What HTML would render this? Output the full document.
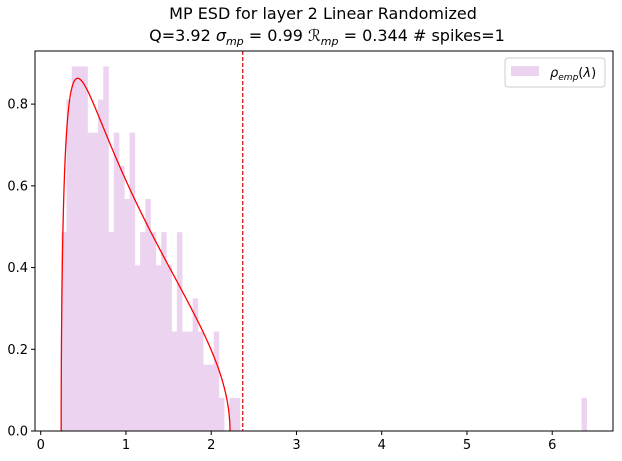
<!DOCTYPE html>
<html><head><meta charset="utf-8"><style>
body{margin:0;background:#fff;}
svg{display:block;font-family:"DejaVu Sans","Liberation Sans",sans-serif;}
</style></head><body>
<svg id="chart" width="622" height="461" viewBox="0 0 622 461" xmlns="http://www.w3.org/2000/svg">
<text x="323" y="19" font-size="16" text-anchor="middle">MP ESD for layer 2 Linear Randomized</text>
<text x="327" y="41" font-size="16" text-anchor="middle">Q=3.92 <tspan font-style="italic">σ</tspan><tspan font-size="11" font-style="italic" dy="4">mp</tspan><tspan dy="-4"> = 0.99 </tspan><tspan font-style="italic">ℛ</tspan><tspan font-size="11" font-style="italic" dy="4">mp</tspan><tspan dy="-4"> = 0.344 # spikes=1</tspan></text>
<g id="bars"></g>
<g id="curve"></g>
<g id="axes"></g>
<g>
<rect x="505" y="58" width="100" height="29" rx="3" fill="#fff" stroke="#ccc"/>
<rect x="511" y="66" width="28" height="10" fill="#ecd4f1"/>
<text x="550" y="77" font-size="13"><tspan font-style="italic">ρ</tspan><tspan font-size="9" font-style="italic" dy="3">emp</tspan><tspan dy="-3">(</tspan><tspan font-style="italic">λ</tspan>)</text>
</g>
</svg>
<script>
const binStart = 0.241;
const binEnd = 6.405;
const binCounts = [6,10,11,11,11,9,9,10,11,6,9,8,7,9,5,6,7,6,5,6,5,3,6,3,3,4,3,2,2,3,1,0,1,1,
0,0,0,0,0,0,0,0,0,0,0,0,0,0,0,0,0,0,0,0,0,0,0,0,0,0,0,0,0,0,0,0,0,0,0,0,0,0,0,0,0,0,0,0,0,0,0,0,0,0,0,0,0,0,0,0,0,0,0,0,0,0,0,0,0,1];
const mpQ = 3.92;
const mpSigma = 0.99;
const spikeThreshold = 2.37;
const xTicks = [0,1,2,3,4,5,6];
const yTicks = [0.0,0.2,0.4,0.6,0.8];
const xMin=-0.067, xMax=6.713, yMin=0, yMax=0.93;
const L=35,R=613,T=51,B=431;
const sx=v=>L+(v-xMin)/(xMax-xMin)*(R-L);
const sy=v=>B-(v-yMin)/(yMax-yMin)*(B-T);
const NS="http://www.w3.org/2000/svg";
function mk(tag,attrs,parent){const e=document.createElementNS(NS,tag);for(const k in attrs)e.setAttribute(k,attrs[k]);parent.appendChild(e);return e;}
const nBins=binCounts.length, w=(binEnd-binStart)/nBins;
const total=binCounts.reduce((a,b)=>a+b,0);
const bars=document.getElementById('bars');
binCounts.forEach((c,i)=>{
  if(!c) return;
  const h=c/(total*w);
  const x0=sx(binStart+i*w), x1=sx(binStart+(i+1)*w);
  const r=mk('rect',{x:x0,y:sy(h),width:x1-x0+0.3,height:sy(0)-sy(h),fill:'#ecd4f1'},bars);
  
  
});
// MP curve
const cg=document.getElementById('curve');
const s2=mpSigma*mpSigma, lp=s2*Math.pow(1+1/Math.sqrt(mpQ),2), lm=s2*Math.pow(1-1/Math.sqrt(mpQ),2);
let d='M'+sx(lm)+','+sy(0);
for(let k=0;k<=600;k++){
  const t=k/600, lam=lm+(lp-lm)*(1-Math.cos(Math.PI*t))/2;
  const v=mpQ/(2*Math.PI*s2*lam)*Math.sqrt(Math.max(0,(lp-lam)*(lam-lm)));
  d+=' L'+sx(lam).toFixed(2)+','+sy(v).toFixed(2);
}
const p=mk('path',{d:d,fill:'none',stroke:'#ff0000','stroke-width':1.3},cg);


const dl=mk('line',{x1:sx(spikeThreshold),x2:sx(spikeThreshold),y1:T,y2:B,stroke:'#d40000','stroke-width':1.2,'stroke-dasharray':'4,2'},cg);


// axes
const ax=document.getElementById('axes');
const fr=mk('rect',{x:L,y:T,width:R-L,height:B-T,fill:'none',stroke:'#000','stroke-width':1},ax);


xTicks.forEach(t=>{
  const x=sx(t);
  const tl=mk('line',{x1:x,x2:x,y1:B,y2:B+4,stroke:'#000'},ax);
  
  
  const tx=mk('text',{x:x,y:B+18,'font-size':13,'text-anchor':'middle'},ax);
  tx.textContent=t;
  
  
});
yTicks.forEach(t=>{
  const y=sy(t);
  const tl=mk('line',{x1:L-4,x2:L,y1:y,y2:y,stroke:'#000'},ax);
  
  
  const tx=mk('text',{x:L-7,y:y+4.5,'font-size':13,'text-anchor':'end'},ax);
  tx.textContent=t.toFixed(1);
  
  
});
</script>
</body></html>
